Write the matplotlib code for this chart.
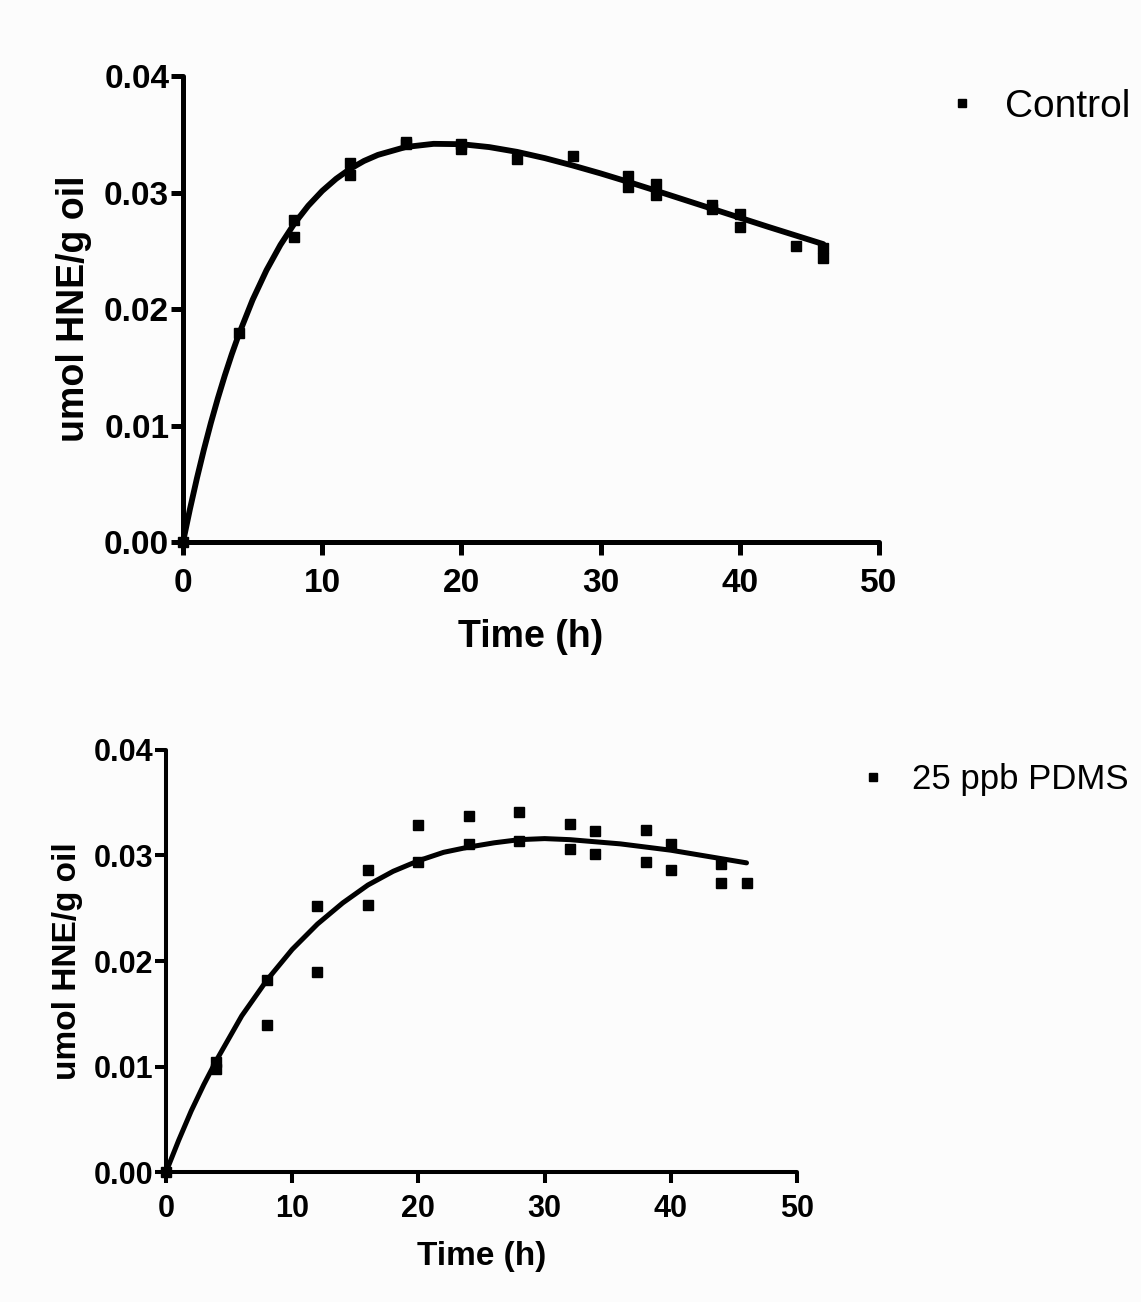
import numpy as np
import matplotlib
matplotlib.use('Agg')
import matplotlib.pyplot as plt

plt.rcParams['font.family'] = ['Liberation Sans', 'DejaVu Sans']

# ---- Control: measured points ----
ctrl_t = [0, 4, 8, 8, 12, 12, 16, 16, 20, 20, 24, 28, 32, 32, 34, 34, 38, 38, 40, 40, 44, 46, 46]
ctrl_y = [0.0, 0.0179, 0.0276, 0.0262, 0.0325, 0.0315, 0.0343, 0.0342, 0.0342, 0.0337, 0.0329,
          0.0331, 0.0314, 0.0305, 0.0307, 0.0298, 0.0289, 0.0286, 0.0282, 0.0270, 0.0254, 0.0252, 0.0244]
# fitted curve
ctrl_fit_t = [0, 0.5, 1, 1.5, 2, 2.5, 3, 3.5, 4, 5, 6, 7, 8, 9, 10, 11, 12, 13, 14, 16, 18, 20,
              22, 24, 26, 28, 30, 32, 34, 36, 38, 40, 42, 44, 46]
ctrl_fit_y = [0.0, 0.00284, 0.00548, 0.00794, 0.01022, 0.01233, 0.01429, 0.01611, 0.01779, 0.02079,
              0.02334, 0.02551, 0.02734, 0.02887, 0.03014, 0.03118, 0.03203, 0.03271, 0.03323, 0.03391,
              0.03418, 0.03415, 0.03390, 0.03349, 0.03295, 0.03232, 0.03164, 0.03091, 0.03015, 0.02938,
              0.02861, 0.02784, 0.02707, 0.02632, 0.02557]

# ---- 25 ppb PDMS ----
pdms_t = [0, 4, 4, 8, 8, 12, 12, 16, 16, 20, 20, 24, 24, 28, 28, 32, 32, 34, 34, 38, 38, 40, 40, 44, 44, 46]
pdms_y = [0.0, 0.0104, 0.0098, 0.0182, 0.0139, 0.0252, 0.0190, 0.0286, 0.0253, 0.0329, 0.0294,
          0.0337, 0.0311, 0.0341, 0.0314, 0.0330, 0.0306, 0.0323, 0.0301, 0.0324, 0.0294, 0.0311,
          0.0286, 0.0292, 0.0274, 0.0274]
pdms_fit_t = [0, 1, 2, 3, 4, 6, 8, 10, 12, 14, 16, 18, 20, 22, 24, 26, 28, 30, 32, 34, 36, 38, 40, 42, 44, 46]
pdms_fit_y = [0.0, 0.0030, 0.0058, 0.0083, 0.0106, 0.0148, 0.0182, 0.0211, 0.0235, 0.0255, 0.0272,
              0.0285, 0.0295, 0.0303, 0.0308, 0.0312, 0.0315, 0.0316, 0.0315, 0.0313, 0.0311, 0.0308,
              0.0305, 0.0301, 0.0297, 0.0293]

x_ticks = [0, 10, 20, 30, 40, 50]
y_ticks = [0.00, 0.01, 0.02, 0.03, 0.04]
y_ticklabels = ['0.00', '0.01', '0.02', '0.03', '0.04']

bg = '#fcfcfc'
fig = plt.figure(figsize=(11.41, 13.02), dpi=100, facecolor=bg)


def style_axes(ax, lw, tick_fs, label_fs, tlen, xpad, xlabelpad, ylabelpad):
    ax.set_facecolor(bg)
    for s in ['top', 'right']:
        ax.spines[s].set_visible(False)
    for s in ['left', 'bottom']:
        ax.spines[s].set_linewidth(lw)
        ax.spines[s].set_capstyle('round')
    ax.set_xlim(0, 50)
    ax.set_ylim(0, 0.04)
    ax.set_xticks(x_ticks)
    ax.set_yticks(y_ticks)
    ax.set_yticklabels(y_ticklabels)
    ax.tick_params(direction='out', length=tlen, width=lw, labelsize=tick_fs)
    ax.tick_params(axis='x', pad=xpad)
    ax.tick_params(axis='y', pad=1)
    for lab in ax.get_xticklabels() + ax.get_yticklabels():
        lab.set_fontweight('bold')
    ax.set_xlabel('Time (h)', fontsize=label_fs, fontweight='bold', labelpad=xlabelpad)
    ax.set_ylabel('umol HNE/g oil', fontsize=label_fs, fontweight='bold', labelpad=ylabelpad)


# top panel
ax1 = fig.add_axes([0.1604, 0.5837, 0.61, 0.3579])
ax1.plot(ctrl_fit_t, ctrl_fit_y, color='black', lw=4.2, solid_capstyle='round', clip_on=False)
ax1.plot(ctrl_t, ctrl_y, 's', color='black', ms=7.5, clip_on=False, label='Control')
style_axes(ax1, 3.6, 24, 27, 9, 10, 14, 9)
fig.legend(handles=ax1.get_legend_handles_labels()[0], labels=['Control'],
           loc='center left', bbox_to_anchor=(942.6 / 1141, 1 - 107 / 1302),
           bbox_transform=fig.transFigure, frameon=False, fontsize=28,
           handletextpad=0.61, handlelength=1.0, markerscale=0.85,
           borderpad=0, borderaxespad=0)

# bottom panel
ax2 = fig.add_axes([0.1455, 0.0998, 0.553, 0.3242])
ax2.plot(pdms_fit_t, pdms_fit_y, color='black', lw=3.6, solid_capstyle='round', clip_on=False)
ax2.plot(pdms_t, pdms_y, 's', color='black', ms=6.5, clip_on=False, label='25 ppb PDMS')
style_axes(ax2, 2.9, 22, 24, 8, 8, 12, 8)
fig.legend(handles=ax2.get_legend_handles_labels()[0], labels=['25 ppb PDMS'],
           loc='center left', bbox_to_anchor=(855.6 / 1141, 1 - 780 / 1302),
           bbox_transform=fig.transFigure, frameon=False, fontsize=25,
           handletextpad=0.62, handlelength=1.0, markerscale=0.8,
           borderpad=0, borderaxespad=0)

fig.savefig('out.png', dpi=100, facecolor=bg)
